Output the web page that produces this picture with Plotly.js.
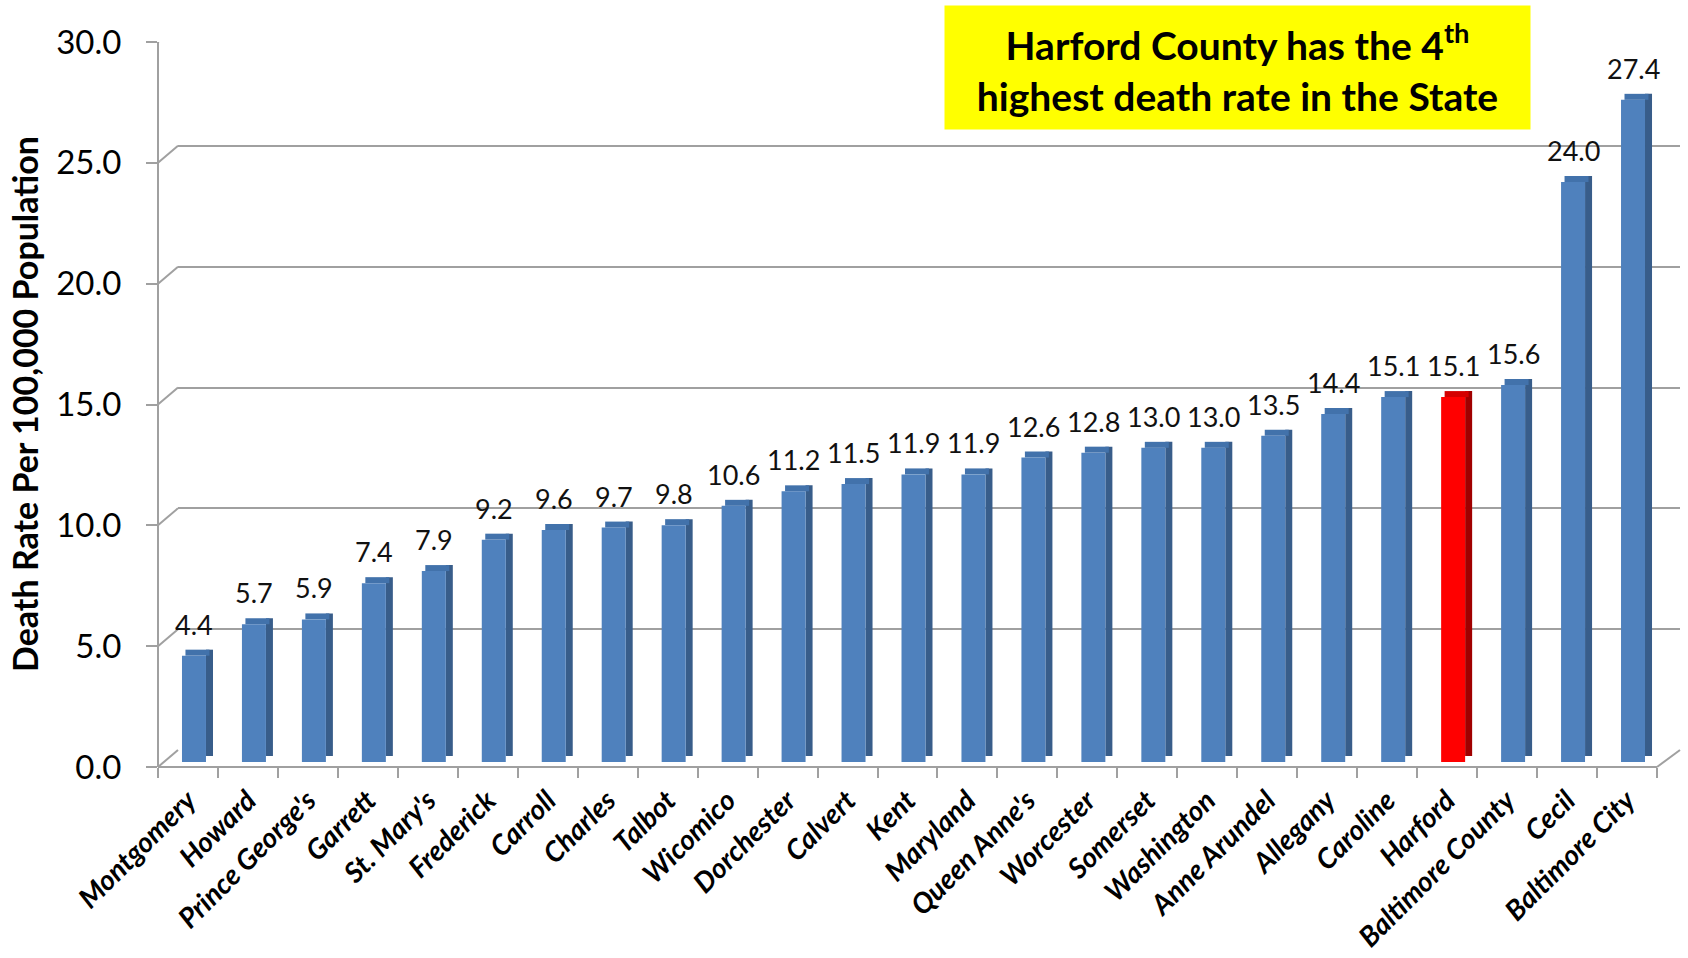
<!DOCTYPE html>
<html>
<head>
<meta charset="utf-8">
<script src="https://cdn.plot.ly/plotly-3.0.1.min.js"></script>
<style>html,body{margin:0;padding:0;background:#fff;}#chart{width:1688px;height:958px;}</style>
</head>
<body>
<div id="chart"></div>
<script>
// ---- data ----
const counties = ["Montgomery","Howard","Prince George's","Garrett","St. Mary's","Frederick","Carroll","Charles","Talbot","Wicomico","Dorchester","Calvert","Kent","Maryland","Queen Anne's","Worcester","Somerset","Washington","Anne Arundel","Allegany","Caroline","Harford","Baltimore County","Cecil","Baltimore City"];
const deathRates = [4.4,5.7,5.9,7.4,7.9,9.2,9.6,9.7,9.8,10.6,11.2,11.5,11.9,11.9,12.6,12.8,13.0,13.0,13.5,14.4,15.1,15.1,15.6,24.0,27.4];
const highlightCounty = "Harford";
const yTickVals = [0,5,10,15,20,25,30];
const yTitle = "Death Rate Per 100,000 Population";
const calloutText = "Harford County has the 4<sup>th</sup><br>highest death rate in the State";

// ---- geometry helpers (pixels -> paper) ----
const W = 1688, H = 958;
const fx = p => p / W;
const fy = p => 1 - p / H;
const PX_PER_UNIT = 725 / 30;
const DEPTH_UNITS = 6 / PX_PER_UNIT;       // bar top/side rise
const BACK_UNITS = 17 / PX_PER_UNIT;       // back-wall offset

const isHi = counties.map(c => c === highlightCounty);
const faceColors = isHi.map(h => h ? '#ff0000' : '#4f81bd');
const sideColors = isHi.map(h => h ? '#a00000' : '#385d8a');
const capColors  = isHi.map(h => h ? '#d40000' : '#4272ab');

const gridColor = '#a0a0a0';
const font = 'Lato, "Open Sans", sans-serif';

const traces = [
  // grid subplot (back wall) - drawn first
  {type:'scatter', x:[], y:[], xaxis:'x', yaxis:'y', hoverinfo:'skip', showlegend:false},
  // side faces
  {type:'bar', x:counties, y:deathRates, base:deathRates.map(()=>DEPTH_UNITS),
   xaxis:'x2', yaxis:'y2', width:0.117, offset:0.3,
   marker:{color:sideColors, line:{width:0}}, hoverinfo:'skip', showlegend:false},
  // top caps
  {type:'bar', x:counties, y:deathRates.map(()=>DEPTH_UNITS), base:deathRates,
   xaxis:'x2', yaxis:'y2', width:0.4, offset:-0.042,
   marker:{color:capColors, line:{width:0}}, hoverinfo:'skip', showlegend:false},
  // front faces
  {type:'bar', x:counties, y:deathRates, xaxis:'x2', yaxis:'y2', width:0.4, offset:-0.1,
   marker:{color:faceColors, line:{width:0}}, showlegend:false},
  // label axis subplot
  {type:'scatter', x:[], y:[], xaxis:'x2', yaxis:'y3', hoverinfo:'skip', showlegend:false}
];

const shapes = yTickVals.map(v => ({
  type:'line', xref:'paper', yref:'y3',
  x0:fx(158), y0:v, x1:fx(178), y1:v + BACK_UNITS,
  line:{color:gridColor, width:2}
}));
shapes.push({type:'line', xref:'paper', yref:'paper', x0:fx(1657), y0:fy(767), x1:fx(1680), y1:fy(750),
  line:{color:gridColor, width:2}});

const annotations = counties.map((c,i) => ({
  xref:'x2', yref:'y2', x:c, y:deathRates[i], text:deathRates[i].toFixed(1),
  showarrow:false, yanchor:'bottom', xanchor:'center', xshift:6, yshift:13,
  font:{family:font, size:27, color:'#111'}
}));
annotations.push({
  xref:'paper', yref:'paper', x:fx(25), y:fy(404), text:'<b>'+yTitle+'</b>',
  textangle:-90, showarrow:false, xanchor:'center', yanchor:'middle',
  font:{family:font, size:34, color:'#000'}
});
annotations.push({
  xref:'paper', yref:'paper', x:fx(1237), y:fy(67), text:'<b>'+calloutText+'</b>',
  showarrow:false, xanchor:'center', yanchor:'middle', align:'center',
  bgcolor:'#ffff00', width:585, height:123, borderpad:0,
  font:{family:font, size:39, color:'#000'}
});

const layout = {
  width:W, height:H, margin:{l:0,r:0,t:0,b:0},
  paper_bgcolor:'#fff', plot_bgcolor:'rgba(0,0,0,0)',
  barmode:'overlay', showlegend:false,
  xaxis:{domain:[fx(178), fx(1680)], anchor:'y', visible:false, range:[0,1]},
  yaxis:{domain:[fy(750), fy(25)], anchor:'x', range:[0,30], tickvals:yTickVals,
         showgrid:true, gridcolor:gridColor, gridwidth:2, zeroline:false,
         showticklabels:false, ticks:'', showline:false},
  xaxis2:{domain:[fx(158), fx(1657)], anchor:'free', position:fy(767), type:'category',
          range:[-0.5, counties.length-0.5], tickson:'boundaries', ticks:'outside', ticklen:10,
          tickwidth:2, tickcolor:gridColor, showline:true, linecolor:gridColor, linewidth:2,
          showgrid:false, zeroline:false, tickangle:-45, ticklabelstandoff:5,
          tickfont:{family:font, size:28, weight:'bold', style:'italic', color:'#000'}},
  yaxis2:{domain:[fy(762), fy(37)], anchor:'x2', range:[0,30], visible:false},
  yaxis3:{domain:[fy(767), fy(42)], anchor:'free', position:fx(158), range:[0,30],
          tickvals:yTickVals, tickformat:'.1f', ticks:'outside', ticklen:11, tickwidth:2,
          tickcolor:gridColor, showline:true, linecolor:gridColor, linewidth:2,
          showgrid:false, zeroline:false, ticklabelstandoff:18,
          tickfont:{family:font, size:33, color:'#000'}},
  shapes:shapes,
  annotations:annotations
};

Plotly.newPlot('chart', traces, layout, {staticPlot:true, displayModeBar:false});
</script>
</body>
</html>
